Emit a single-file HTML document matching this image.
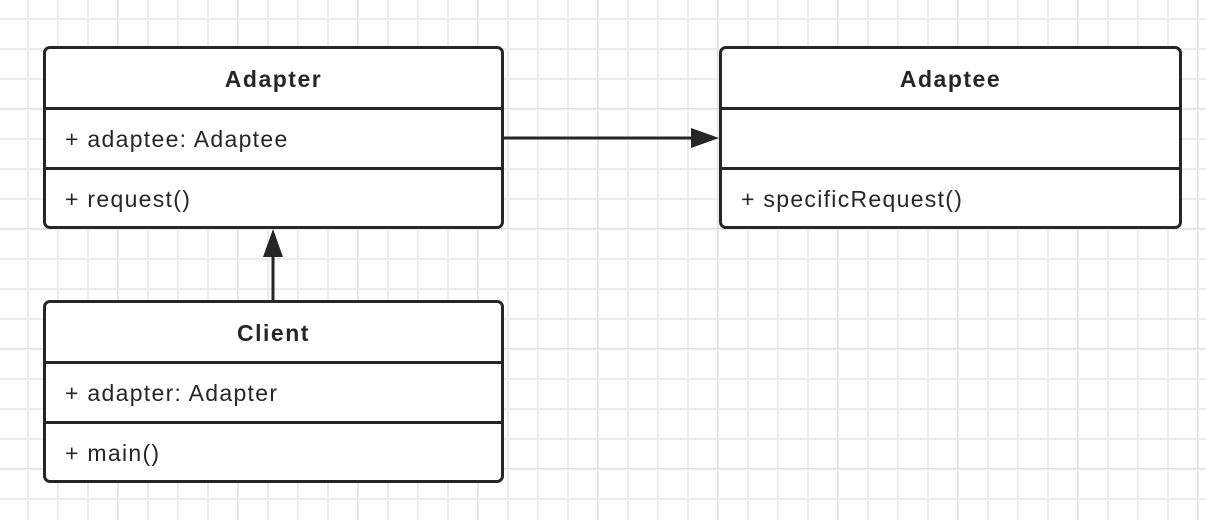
<!DOCTYPE html><html><head><style>
body{margin:0;width:1206px;height:520px;overflow:hidden;background:#fff;
background-image:linear-gradient(#e0e0e0 1px,transparent 1px),linear-gradient(90deg,#e0e0e0 1px,transparent 1px),linear-gradient(#ececec 2px,transparent 2px),linear-gradient(90deg,#ececec 2px,transparent 2px);
background-size:120px 120px,120px 120px,30px 30px,30px 30px;background-position:0 108px,117px 0,0 18px,27px 0;
font-family:"Liberation Sans",sans-serif;position:relative}
.b{position:absolute;border:3px solid #262626;border-radius:7px;background:#fff;box-sizing:border-box}
.r{height:60px;box-sizing:border-box;border-top:3px solid #262626;font-size:23px;letter-spacing:1.3px;color:#262626;padding:0 0 0 19px;line-height:59px}
.h{height:58px;font-weight:bold;text-align:center;font-size:23px;letter-spacing:1.5px;line-height:60px;color:#262626}
</style></head><body>
<div class="b" style="left:43px;top:46px;width:461px;height:183px"><div class="h">Adapter</div><div class="r">+ adaptee: Adaptee</div><div class="r" style="height:59px">+ request()</div></div>
<div class="b" style="left:719px;top:46px;width:463px;height:183px"><div class="h">Adaptee</div><div class="r"></div><div class="r" style="height:59px">+ specificRequest()</div></div>
<div class="b" style="left:43px;top:300px;width:461px;height:183px"><div class="h">Client</div><div class="r">+ adapter: Adapter</div><div class="r" style="height:59px">+ main()</div></div>
<svg width="1206" height="520" style="position:absolute;left:0;top:0">
<line x1="504" y1="138" x2="700" y2="138" stroke="#262626" stroke-width="3"/>
<polygon points="719,138 691,128 691,148" fill="#262626"/>
<line x1="273" y1="300" x2="273" y2="250" stroke="#262626" stroke-width="3"/>
<polygon points="273,229 263,257 283,257" fill="#262626"/>
</svg>
</body></html>
